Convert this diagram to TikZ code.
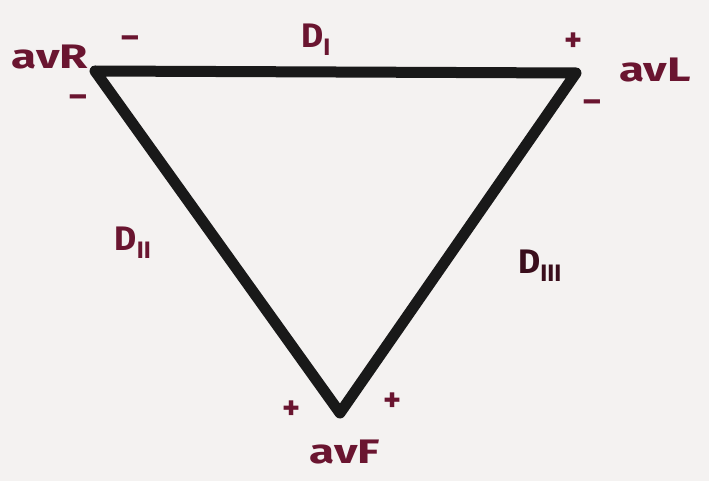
\documentclass[tikz,border=0pt]{standalone}
\usepackage{fontspec}
\setmainfont{Fira Sans}
\definecolor{ink}{HTML}{6A1530}
\definecolor{inkdark}{HTML}{3A0E1C}
\definecolor{paper}{HTML}{F4F2F1}
\tikzset{
  lbl/.style={text=ink, font=\bfseries\fontsize{34}{34}\selectfont, inner sep=0pt},
  wide/.style={xscale=1.35},
  sgn/.style={text=ink, font=\bfseries\fontsize{34}{34}\selectfont, inner sep=0pt},
  lead/.style={line width=11pt, line join=round, line cap=round, draw=black!90}
}
\begin{document}
\begin{tikzpicture}[x=1pt,y=-1pt]
\fill[paper] (0,0) rectangle (709,481);
\useasboundingbox (0,0) rectangle (709,481);
\coordinate (R) at (95,71);
\coordinate (L) at (576,73);
\coordinate (F) at (340,413);
\draw[lead] (R) -- (L) -- (F) -- cycle;
% labels
\node[lbl, wide] (avr) at (50,57) {avR};
\node[sgn] (rm1) at (130,42) {–};
\node[sgn] (rm2) at (78,101) {–};
\node[lbl] (d1) at (316,40) {D\textsubscript{I}};
\node[sgn] (lp) at (574,42) {+};
\node[lbl, wide] (avl) at (655,70) {avL};
\node[sgn] (lm) at (592,106) {–};
\node[lbl] (d2) at (133,243) {D\textsubscript{II}};
\node[lbl, text=inkdark] (d3) at (540,266) {D\textsubscript{III}};
\node[sgn] (fp1) at (292,410) {+};
\node[sgn] (fp2) at (393,402) {+};
\node[lbl, wide] (avf) at (345,452) {avF};
\end{tikzpicture}
\end{document}
